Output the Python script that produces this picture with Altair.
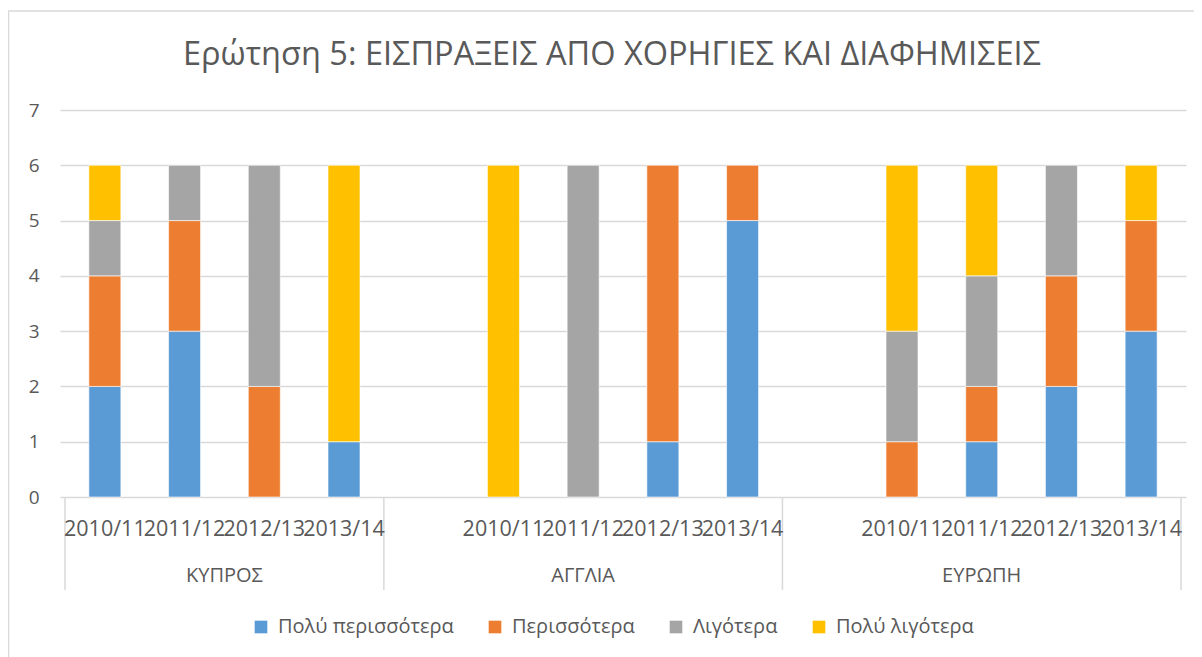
import altair as alt
import pandas as pd

title_text = "Ερώτηση 5: ΕΙΣΠΡΑΞΕΙΣ ΑΠΟ ΧΟΡΗΓΙΕΣ ΚΑΙ ΔΙΑΦΗΜΙΣΕΙΣ"

# 14 category slots (blank separator slots carry no label / no values)
groups = ["ΚΥΠΡΟΣ"] * 4 + ["ΑΓΓΛΙΑ"] * 5 + ["ΕΥΡΩΠΗ"] * 5
years = ["2010/11", "2011/12", "2012/13", "2013/14",
         "", "2010/11", "2011/12", "2012/13", "2013/14",
         "", "2010/11", "2011/12", "2012/13", "2013/14"]

series = ["Πολύ περισσότερα", "Περισσότερα", "Λιγότερα", "Πολύ λιγότερα"]
colors = ["#5B9BD5", "#ED7D31", "#A5A5A5", "#FFC000"]

poly_perissotera = [2, 3, 0, 1, 0, 0, 0, 1, 5, 0, 0, 1, 2, 3]
perissotera      = [2, 2, 2, 0, 0, 0, 0, 5, 1, 0, 1, 1, 2, 2]
ligotera         = [1, 1, 4, 0, 0, 0, 6, 0, 0, 0, 2, 2, 2, 0]
poly_ligotera    = [1, 0, 0, 5, 0, 6, 0, 0, 0, 0, 3, 2, 0, 1]

group_names = ["ΚΥΠΡΟΣ", "ΑΓΓΛΙΑ", "ΕΥΡΩΠΗ"]

# ---- tables built from the arrays ----
rows = []
for s_i, (name, vals) in enumerate(zip(series, [poly_perissotera, perissotera, ligotera, poly_ligotera])):
    for i, v in enumerate(vals):
        if v:
            rows.append({"pos": i + 0.5, "series": name, "value": v, "order": s_i})
df = pd.DataFrame(rows)

year_df = pd.DataFrame([{"pos": i + 0.5, "year": y} for i, y in enumerate(years) if y])

bounds = [0]
for i in range(1, len(groups)):
    if groups[i] != groups[i - 1]:
        bounds.append(i)
bounds.append(len(groups))
sep_df = pd.DataFrame({"pos": bounds})
grp_df = pd.DataFrame({"pos": [(bounds[k] + bounds[k + 1]) / 2 for k in range(len(group_names))],
                       "group": group_names})

W, H = 1126, 387
FONT = "Open Sans"
TXT = "#595959"
GRID = "#D9D9D9"

xs = alt.Scale(domain=[0, len(groups)], nice=False, zero=False)

bars = alt.Chart(df).mark_bar(size=32, stroke="white", strokeWidth=0.6).encode(
    x=alt.X("pos:Q", scale=xs, axis=None),
    y=alt.Y("value:Q", stack="zero",
            scale=alt.Scale(domain=[0, 7], nice=False),
            axis=alt.Axis(title=None, values=list(range(8)), grid=True, gridColor=GRID,
                          gridWidth=1.3, domain=False, ticks=False, labelFont=FONT,
                          labelFontSize=19, labelColor=TXT, labelPadding=21, format="d")),
    color=alt.Color("series:N", scale=alt.Scale(domain=series, range=colors),
                    legend=alt.Legend(title=None, orient="none", legendX=191, legendY=507,
                                      direction="horizontal", symbolType="square",
                                      symbolSize=160, symbolStrokeWidth=0,
                                      labelFont=FONT, labelFontSize=20, labelColor=TXT,
                                      labelLimit=0, columnPadding=31, labelOffset=7)),
    order=alt.Order("order:Q"),
)

year_text = alt.Chart(year_df).mark_text(font=FONT, fontSize=21.5, color=TXT, baseline="middle").encode(
    x=alt.X("pos:Q", scale=xs), y=alt.value(H + 33), text="year:N")

grp_text = alt.Chart(grp_df).mark_text(font=FONT, fontSize=20, color=TXT, baseline="middle").encode(
    x=alt.X("pos:Q", scale=xs), y=alt.value(H + 79), text="group:N")

seps = alt.Chart(sep_df).mark_rule(color=GRID, strokeWidth=1.5).encode(
    x=alt.X("pos:Q", scale=xs), y=alt.value(H), y2=alt.value(H + 93))

frame = alt.Chart(pd.DataFrame({"k": [0]})).mark_rect(fill="transparent", stroke=GRID, strokeWidth=1.5).encode(
    x=alt.value(-51.5), x2=alt.value(W + 100), y=alt.value(-99), y2=alt.value(H + 300))

title = alt.Chart(pd.DataFrame({"t": [title_text]})).mark_text(
    font=FONT, fontSize=32.5, color=TXT, align="center", baseline="middle").encode(
    x=alt.value(552), y=alt.value(-55), text="t:N")

chart = alt.layer(frame, bars, seps, year_text, grp_text, title).properties(
    width=W, height=H,
    autosize=alt.AutoSizeParams(type="none"),
    padding={"left": 52, "top": 102, "right": 8, "bottom": 160},
).configure_view(stroke=None)

chart.save("out.html", embed_options={"renderer": "svg", "actions": False})
